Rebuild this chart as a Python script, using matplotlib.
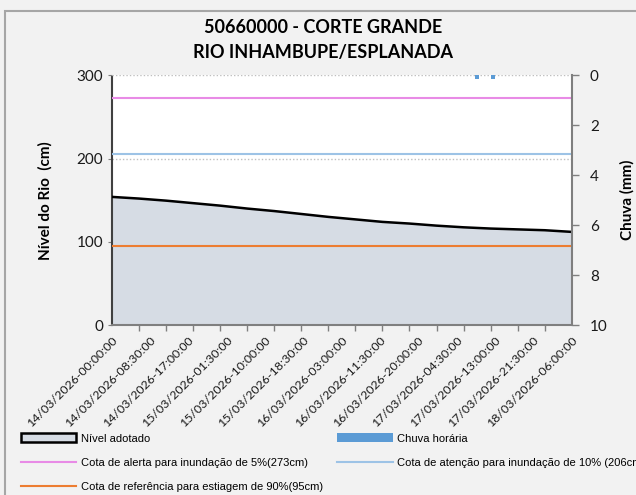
import matplotlib.pyplot as plt
from matplotlib.patches import Patch, Rectangle
from matplotlib.lines import Line2D

plt.rcParams["font.family"] = ["Lato", "DejaVu Sans"]

# horas desde 14/03/2026 00:00
horas = [0, 6, 12, 18, 24, 30, 36, 42, 48, 54, 60, 66, 72, 78, 84, 90, 96, 102]
nivel = [154, 152, 149.5, 146.5, 143.5, 140, 137, 133.5, 130, 127, 124, 122,
         119.5, 117.5, 116, 115, 114, 112]

chuva_horas = [81.0, 84.5]
chuva_mm = [0.17, 0.17]

cota_alerta = 273
cota_atencao = 206
cota_estiagem = 95

tick_horas = [0, 8.5, 17, 25.5, 34, 42.5, 51, 59.5, 68, 76.5, 85, 93.5, 102]
tick_labels = ["14/03/2026-00:00:00", "14/03/2026-08:30:00", "14/03/2026-17:00:00",
               "15/03/2026-01:30:00", "15/03/2026-10:00:00", "15/03/2026-18:30:00",
               "16/03/2026-03:00:00", "16/03/2026-11:30:00", "16/03/2026-20:00:00",
               "17/03/2026-04:30:00", "17/03/2026-13:00:00", "17/03/2026-21:30:00",
               "18/03/2026-06:00:00"]
minor_horas = list(range(0, 103, 6))

fig = plt.figure(figsize=(6.36, 4.95), dpi=100, facecolor="#f2f2f2")
ax = fig.add_axes([0.176, 0.343, 0.723, 0.505])
ax.set_facecolor("white")

# area do nivel
ax.fill_between(horas, nivel, 0, color="#d6dce4", zorder=2)
ax.plot(horas, nivel, color="black", lw=1.8, zorder=3)

# cotas
ax.axhline(cota_alerta, color="#e88be6", lw=1.5, zorder=4)
ax.axhline(cota_atencao, color="#9dc3e6", lw=1.5, zorder=4)
ax.axhline(cota_estiagem, color="#ed7d31", lw=1.5, zorder=4)

ax.set_xlim(0, 102)
ax.set_ylim(0, 300)
ax.set_yticks([0, 100, 200, 300])
ax.yaxis.grid(True, color="#bfbfbf", ls=(0, (1, 1.5)), lw=1, zorder=1)
ax.set_axisbelow(True)

ax.set_xticks(tick_horas)
ax.set_xticklabels(tick_labels, rotation=45, ha="right", rotation_mode="anchor",
                   fontsize=8.9, color="#1a1a1a")
ax.set_xticks(minor_horas, minor=True)
ax.tick_params(axis="x", which="major", length=0, pad=6)
ax.tick_params(axis="x", which="minor", length=4, color="#7f7f7f", width=1)
ax.tick_params(axis="y", length=3, color="#7f7f7f", labelsize=11, labelcolor="#1a1a1a")

for s in ["top", "right"]:
    ax.spines[s].set_visible(False)
ax.spines["left"].set_linestyle((0, (1, 1)))
ax.spines["left"].set_color("#404040")
ax.spines["left"].set_linewidth(1.5)
ax.spines["bottom"].set_color("#7f7f7f")
ax.spines["bottom"].set_linewidth(1.5)

ax.set_ylabel("Nível do Rio  (cm)", fontsize=11, fontweight="bold", labelpad=17)

# chuva no eixo secundario
ax2 = ax.twinx()
ax2.bar(chuva_horas, chuva_mm, width=0.8, color="#5b9bd5", zorder=3)
ax2.set_ylim(10, 0)
ax2.set_yticks([0, 2, 4, 6, 8, 10])
ax2.tick_params(axis="y", length=5, color="#7f7f7f", width=1, labelsize=11,
                labelcolor="#1a1a1a", pad=8)
for s in ["top", "left", "bottom"]:
    ax2.spines[s].set_visible(False)
ax2.spines["right"].set_color("#7f7f7f")
ax2.spines["right"].set_linewidth(1.5)
ax2.set_ylabel("Chuva (mm)", fontsize=11, fontweight="bold", labelpad=9)

fig.text(0.508, 0.945, "50660000 - CORTE GRANDE", ha="center", va="center",
         fontsize=13, fontweight="bold")
fig.text(0.508, 0.893, "RIO INHAMBUPE/ESPLANADA", ha="center", va="center",
         fontsize=13, fontweight="bold")

# legenda
handles = [
    Patch(facecolor="#d6dce4", edgecolor="black", lw=1.8, label="Nível adotado"),
    Line2D([], [], color="#e88be6", lw=1.5, label="Cota de alerta para inundação de 5%(273cm)"),
    Line2D([], [], color="#ed7d31", lw=1.5, label="Cota de referência para estiagem de 90%(95cm)"),
    Patch(facecolor="#5b9bd5", edgecolor="none", label="Chuva horária"),
    Line2D([], [], color="#9dc3e6", lw=1.5, label="Cota de atenção para inundação de 10% (206cm)"),
]
fig.legend(handles=handles, loc="upper left", bbox_to_anchor=(0.0325, 0.125), ncol=2,
           frameon=False, prop={"family": "Liberation Sans", "size": 8},
           handlelength=5, handleheight=0.9, handletextpad=0.4, columnspacing=1.3,
           labelspacing=1.25, borderaxespad=0, borderpad=0)

fig.patches.append(Rectangle((5 / 636, -0.05), 1.2, 0.05 + 1 - 11 / 495,
                             transform=fig.transFigure, fill=False,
                             edgecolor="#a6a6a6", lw=1.5))

fig.savefig("out.png", dpi=100, facecolor=fig.get_facecolor())
